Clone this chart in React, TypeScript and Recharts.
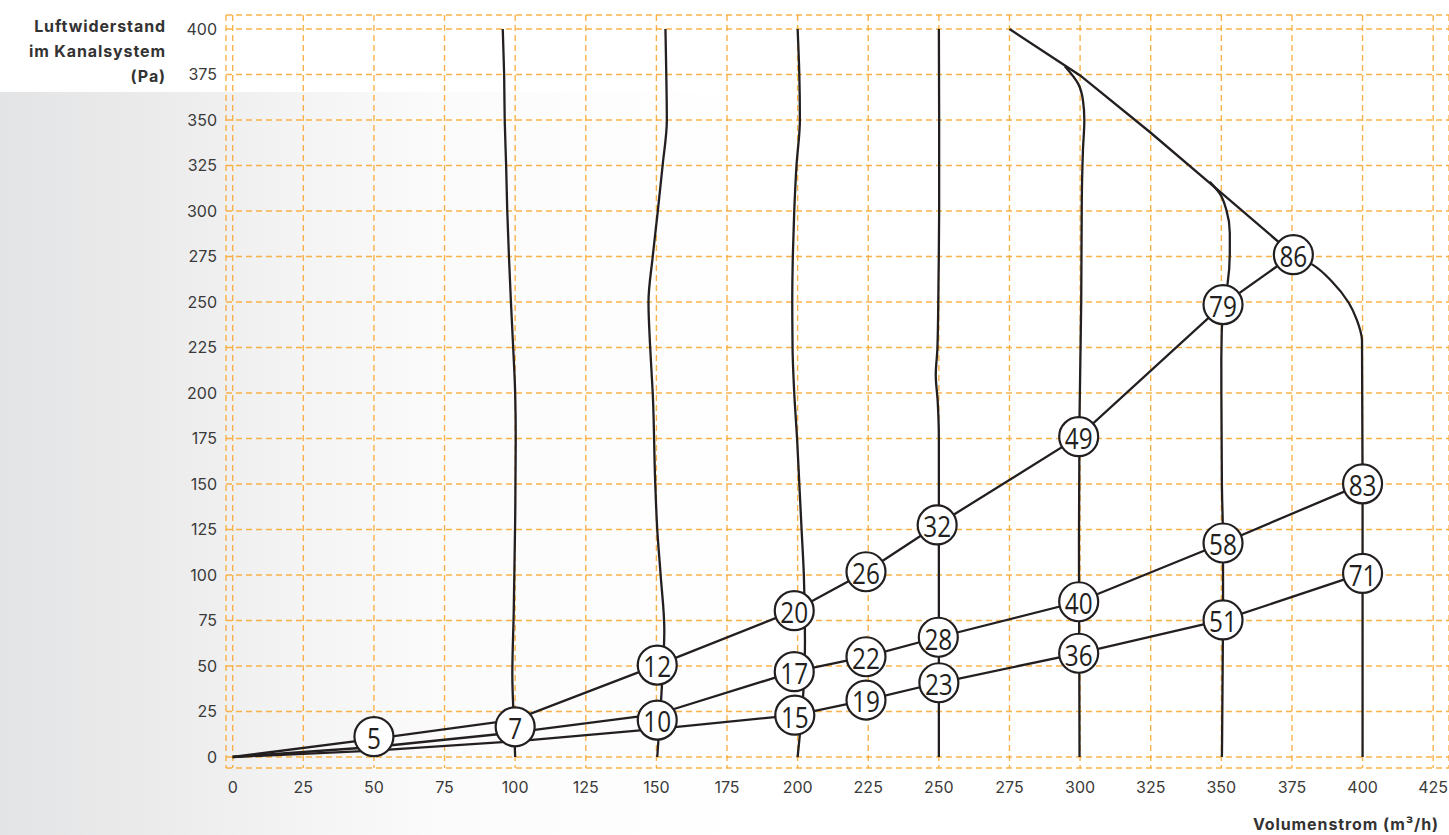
import { ComposedChart, Line, Scatter, XAxis, YAxis, CartesianGrid } from 'recharts';

const INK = '#231f20';
const GRID = '#f9a62b';

const xTicks = [0, 25, 50, 75, 100, 125, 150, 175, 200, 225, 250, 275, 300, 325, 350, 375, 400, 425];
const yTicks = [0, 25, 50, 75, 100, 125, 150, 175, 200, 225, 250, 275, 300, 325, 350, 375, 400];

// Ventilatorkennlinien (Volumenstrom, Druck) - von oben nach unten
const fan100: [number, number][] = [
  [95.6, 400], [96.1, 375], [96.3, 350], [96.8, 325], [97.2, 300], [97.8, 275], [98.5, 250],
  [99.3, 225], [100, 200], [100.2, 175], [100, 130], [99.5, 80], [99, 45], [99.6, 17], [100, 0],
];
const fan150: [number, number][] = [
  [153.2, 400], [153.5, 375], [153.7, 350], [152.2, 325], [150.5, 300], [148.7, 275], [147.2, 250],
  [147.8, 225], [148.7, 200], [149.6, 150], [150.3, 125], [151.5, 100], [152.8, 70], [151.8, 35], [150.3, 0],
];
const fan200: [number, number][] = [
  [200, 400], [200.6, 375], [200.8, 350], [199.6, 325], [198.8, 300], [198.3, 275], [198.1, 250],
  [198.2, 225], [198.8, 200], [199.8, 175], [200.6, 150], [201.4, 125], [202.2, 100], [202.6, 64], [202, 35], [200, 0],
];
const fan250: [number, number][] = [
  [250, 400], [250.1, 350], [250.1, 300], [249.9, 265], [249.5, 225], [248.9, 210], [249.6, 195], [250, 175], [250, 0],
];
const fan300: [number, number][] = [
  [294.6, 379.6], [299.3, 370], [301, 361], [301.5, 350], [301, 333], [300.6, 306], [300.4, 250],
  [299.8, 187], [299.6, 120], [299.7, 57], [299.8, 0],
];
const fan350: [number, number][] = [
  [345.9, 316], [349.4, 309.7], [351.8, 300.5], [353, 288], [353, 277], [352.2, 260], [350.6, 248.6],
  [350, 219], [350.2, 150], [350.6, 117.6], [350.6, 75], [350.2, 0],
];
const fan400: [number, number][] = [
  [375.5, 276], [382.4, 270.4], [389.3, 261], [395.1, 249.6], [398, 240], [399.8, 228.7], [400, 150], [400, 0],
];

// obere Grenzlinie
const limitLine: [number, number][] = [[275, 400], [300, 374.5], [325, 343], [350, 310], [375.5, 276]];

// Anlagenkennlinien
const systemHigh: [number, number][] = [
  [0, 0], [50, 10], [100, 20.5], [150.3, 50.5], [198.8, 80.4], [224.2, 101.8], [249.4, 127.5],
  [299.5, 176], [350.6, 248.6], [375.5, 276],
];
const systemMid: [number, number][] = [
  [0, 0], [50, 5.5], [100, 13.5], [150.3, 23.5], [198.8, 46.9], [224.2, 55.1], [249.8, 65.8],
  [299.5, 85.3], [350.6, 117.6], [400, 150.1],
];
const systemLow: [number, number][] = [
  [0, 0], [50, 3.5], [100, 8.6], [150.3, 15.5], [199, 23], [224.2, 31.3], [250, 40.8],
  [299.5, 57], [350.6, 75.3], [400, 100.9],
];

// Leistungsaufnahme (W) an den Betriebspunkten
const markerX = [50, 100, 150.3, 150.3, 198.8, 198.8, 199, 224.2, 224.2, 224.2, 249.4, 249.8, 250, 299.5, 299.5, 299.5, 350.6, 350.6, 350.6, 375.5, 400, 400];
const markerY = [11.2, 16.6, 50.5, 20.3, 80.4, 46.9, 23, 101.8, 55.1, 31.3, 127.5, 65.8, 40.8, 176, 85.3, 57, 248.6, 117.6, 75.3, 276, 150.1, 100.9];
const markerWatt = [5, 7, 12, 10, 20, 17, 15, 26, 22, 19, 32, 28, 23, 49, 40, 36, 79, 58, 51, 86, 83, 71];

const toPoints = (pts: [number, number][]) => pts.map(([x, y]) => ({ x, y }));
const markers = markerX.map((x, i) => ({ x, y: markerY[i], watt: markerWatt[i] }));

const fanCurves = [fan100, fan150, fan200, fan250, fan300, fan350, fan400];
const straightCurves = [limitLine, systemHigh, systemMid, systemLow];

const WattMarker = (props: any) => {
  const { cx, cy, payload } = props;
  return (
    <g>
      <circle cx={cx} cy={cy} r={19.5} fill="#fff" stroke={INK} strokeWidth={2.2} />
      <text
        transform={`translate(${cx},${cy}) scale(0.84,1)`}
        x={0}
        y={1}
        textAnchor="middle"
        dominantBaseline="central"
        fill={INK}
        fontSize={29}
        fontFamily="'Open Sans', sans-serif"
      >
        {payload.watt}
      </text>
    </g>
  );
};

const tickStyle = { fill: '#3a3a3a', fontSize: 16, fontFamily: 'Inter, sans-serif' };
const titleStyle = {
  fontFamily: 'Inter, sans-serif', fontWeight: 700, fontSize: 16, color: '#333',
  letterSpacing: 0.9, whiteSpace: 'nowrap' as const,
};

export default function App() {
  return (
    <div style={{ position: 'absolute', left: 0, top: 0, width: 1449, height: 835, background: '#fff', overflow: 'hidden' }}>
      <div
        style={{
          position: 'absolute', left: 0, top: 92, width: 760, height: 743,
          background: 'linear-gradient(90deg, #e3e4e5 0%, #ebebec 20%, #f4f4f4 40%, #fbfbfb 58%, rgba(255,255,255,0) 100%)',
        }}
      />
      <div style={{ ...titleStyle, position: 'absolute', right: 1449 - 166, top: 14, textAlign: 'right', lineHeight: '25px' }}>
        <div>Luftwiderstand</div>
        <div>im Kanalsystem</div>
        <div>(Pa)</div>
      </div>
      <div style={{ ...titleStyle, position: 'absolute', right: 10, top: 814 }}>
        Volumenstrom (m³/h)
      </div>
      <div style={{ position: 'absolute', left: 0, top: 0 }}>
        <ComposedChart width={1449} height={835} margin={{ top: 15, right: 0, bottom: 0, left: 0 }}>
          <CartesianGrid stroke={GRID} strokeOpacity={0.85} strokeWidth={1.4} strokeDasharray="6 4" />
          <XAxis
            type="number"
            dataKey="x"
            domain={[-2.37, 430.6]}
            allowDataOverflow
            ticks={xTicks}
            interval={0}
            axisLine={false}
            tickLine={false}
            tickSize={0}
            tickMargin={14}
            height={67}
            tick={tickStyle}
          />
          <YAxis
            type="number"
            dataKey="y"
            domain={[-6.04, 407.7]}
            allowDataOverflow
            ticks={yTicks}
            interval={0}
            axisLine={false}
            tickLine={false}
            tickSize={0}
            tickMargin={9}
            width={226}
            tick={tickStyle}
          />
          {fanCurves.map((c, i) => (
            <Line
              key={'fan' + i}
              data={toPoints(c)}
              dataKey="y"
              type="monotoneY"
              stroke={INK}
              strokeWidth={2.3}
              dot={false}
              activeDot={false}
              isAnimationActive={false}
            />
          ))}
          {straightCurves.map((c, i) => (
            <Line
              key={'sys' + i}
              data={toPoints(c)}
              dataKey="y"
              type="linear"
              stroke={INK}
              strokeWidth={2.3}
              dot={false}
              activeDot={false}
              isAnimationActive={false}
            />
          ))}
          <Scatter data={markers} dataKey="y" shape={WattMarker} isAnimationActive={false} />
        </ComposedChart>
      </div>
    </div>
  );
}
